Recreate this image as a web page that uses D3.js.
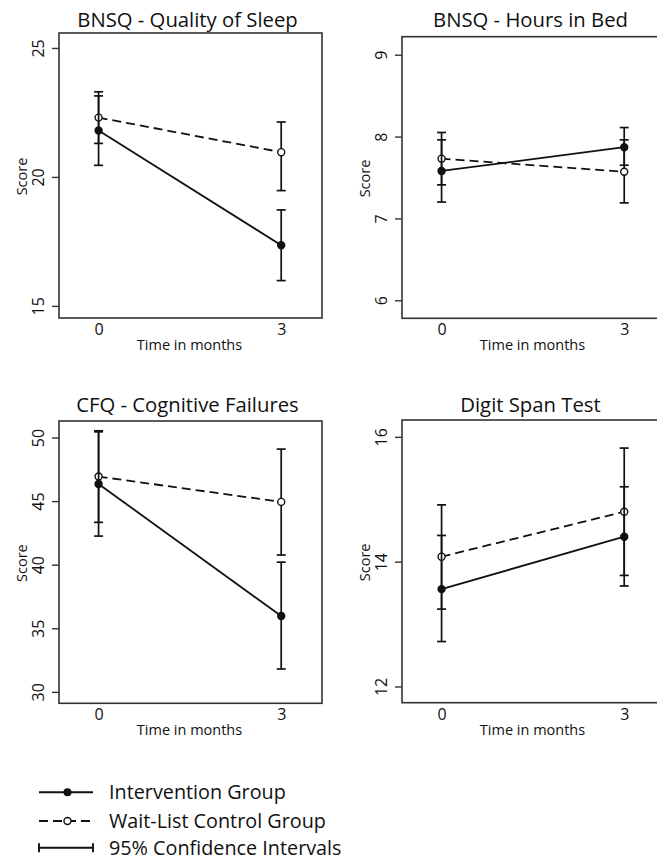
<!DOCTYPE html>
<html>
<head>
<meta charset="utf-8">
<script src="https://cdn.jsdelivr.net/npm/d3@7"></script>
<style>
  body { margin: 0; background: #fff; }
  text { font-family: "Open Sans", "Noto Sans", sans-serif; fill: #111; }
</style>
</head>
<body>
<svg></svg>
<script>
// values
const months = [0, 3];
const titles = ["BNSQ - Quality of Sleep", "BNSQ - Hours in Bed", "CFQ - Cognitive Failures", "Digit Span Test"];
const yTicks = [[15, 20, 25], [6, 7, 8, 9], [30, 35, 40, 45, 50], [12, 14, 16]];
const yDomains = [[14.53, 25.58], [5.78, 9.22], [29.1, 51.3], [11.74, 16.27]];
const xDomain = [-0.65, 3.67];

const interventionMean = [[21.8, 17.35], [7.58, 7.87], [46.35, 35.96], [13.56, 14.4]];
const interventionLow = [[20.45, 15.98], [7.2, 7.65], [42.25, 31.8], [12.72, 13.61]];
const interventionHigh = [[23.14, 18.72], [7.96, 8.11], [50.45, 40.2], [14.42, 15.2]];

const controlMean = [[22.3, 20.96], [7.73, 7.57], [46.93, 44.94], [14.08, 14.8]];
const controlLow = [[21.3, 19.47], [7.41, 7.19], [43.33, 40.76], [13.24, 13.78]];
const controlHigh = [[23.3, 22.13], [8.05, 7.96], [50.53, 49.09], [14.91, 15.82]];

const legendLabels = ["Intervention Group", "Wait-List Control Group", "95% Confidence Intervals"];

const width = 657;
const height = 861;
const ink = "#111";

// plot boxes, title baselines
const boxes = [
    { x0: 59, x1: 322, y0: 33, y1: 318, ty: 27 },
    { x0: 402, x1: 665, y0: 36.7, y1: 318.3, ty: 27 },
    { x0: 59, x1: 322, y0: 421, y1: 703.3, ty: 412 },
    { x0: 402, x1: 665, y0: 420, y1: 702.7, ty: 412 },
];

const svg = d3.select("svg").attr("width", width).attr("height", height);

boxes.forEach(function (b, i) {
    const g = svg.append("g");

    const x = d3.scaleLinear().domain(xDomain).range([b.x0, b.x1]);
    const y = d3.scaleLinear().domain(yDomains[i]).range([b.y1, b.y0]);

    // title
    g.append("text")
        .attr("x", (b.x0 + b.x1) / 2 - 3)
        .attr("y", b.ty)
        .attr("text-anchor", "middle")
        .style("font-size", "20.3px")
        .text(titles[i]);

    // box
    g.append("rect")
        .attr("x", b.x0)
        .attr("y", b.y0)
        .attr("width", b.x1 - b.x0)
        .attr("height", b.y1 - b.y0)
        .attr("fill", "none")
        .attr("stroke", "#333")
        .attr("stroke-width", 1.6);

    // y axis: ticks outside, labels rotated
    const yAxis = g.append("g")
        .attr("transform", `translate(${b.x0}, 0)`)
        .call(d3.axisLeft(y).tickValues(yTicks[i]).tickSize(7).tickFormat(d3.format("d")));
    yAxis.select(".domain").remove();
    yAxis.selectAll(".tick line").attr("stroke", "#333").attr("stroke-width", 1.4);
    yAxis.selectAll(".tick text")
        .attr("x", null).attr("dy", null)
        .attr("transform", "translate(-15, 0) rotate(-90)")
        .attr("text-anchor", "middle")
        .attr("fill", ink)
        .style("font-size", "16px")
        .style("font-family", "'Open Sans', sans-serif");

    // x axis: labels only
    const xAxis = g.append("g")
        .attr("transform", `translate(0, ${b.y1})`)
        .call(d3.axisBottom(x).tickValues(months).tickSize(0).tickPadding(0).tickFormat(d3.format("d")));
    xAxis.select(".domain").remove();
    xAxis.selectAll(".tick text")
        .attr("y", 17).attr("dy", null)
        .attr("fill", ink)
        .style("font-size", "16px")
        .style("font-family", "'Open Sans', sans-serif");

    g.append("text")
        .attr("x", (b.x0 + b.x1) / 2 - 1)
        .attr("y", b.y1 + 32)
        .attr("text-anchor", "middle")
        .style("font-size", "14.5px")
        .text("Time in months");

    g.append("text")
        .attr("transform", `translate(${b.x0 - 32}, ${(b.y0 + b.y1) / 2 + 1}) rotate(-90)`)
        .attr("text-anchor", "middle")
        .style("font-size", "14.5px")
        .text("Score");

    const groups = [
        { mean: controlMean[i], low: controlLow[i], high: controlHigh[i], dash: "9,5", fill: "#fff" },
        { mean: interventionMean[i], low: interventionLow[i], high: interventionHigh[i], dash: null, fill: ink },
    ];

    groups.forEach(function (s) {
        const pts = months.map((m, k) => ({ m: m, v: s.mean[k], lo: s.low[k], hi: s.high[k] }));

        // confidence intervals
        const bars = g.append("g").attr("stroke", ink).attr("stroke-width", 1.7);
        pts.forEach(function (p) {
            bars.append("line").attr("x1", x(p.m)).attr("x2", x(p.m)).attr("y1", y(p.lo)).attr("y2", y(p.hi));
            [p.lo, p.hi].forEach(function (v) {
                bars.append("line").attr("x1", x(p.m) - 4.5).attr("x2", x(p.m) + 4.5).attr("y1", y(v)).attr("y2", y(v));
            });
        });

        const line = d3.line().x(d => x(d.m)).y(d => y(d.v));
        g.append("path")
            .datum(pts)
            .attr("fill", "none")
            .attr("stroke", ink)
            .attr("stroke-width", 1.8)
            .attr("stroke-dasharray", s.dash)
            .attr("d", line);

        g.selectAll(null)
            .data(pts)
            .enter()
            .append("circle")
            .attr("cx", d => x(d.m))
            .attr("cy", d => y(d.v))
            .attr("r", 3.5)
            .attr("fill", s.fill)
            .attr("stroke", ink)
            .attr("stroke-width", 1.4);
    });
});

// legend
const leg = svg.append("g");
const rowY = [792.3, 821, 847.7];
const lx0 = 39, lx1 = 93, lmid = 67.5;

leg.append("line").attr("x1", lx0).attr("x2", lx1).attr("y1", rowY[0]).attr("y2", rowY[0])
    .attr("stroke", ink).attr("stroke-width", 1.9);
leg.append("circle").attr("cx", lmid).attr("cy", rowY[0]).attr("r", 4).attr("fill", ink);

leg.append("line").attr("x1", lx0).attr("x2", lx1).attr("y1", rowY[1]).attr("y2", rowY[1])
    .attr("stroke", ink).attr("stroke-width", 1.9).attr("stroke-dasharray", "9,5");
leg.append("circle").attr("cx", lmid).attr("cy", rowY[1]).attr("r", 3.5)
    .attr("fill", "#fff").attr("stroke", ink).attr("stroke-width", 1.4);

leg.append("line").attr("x1", lx0).attr("x2", lx1).attr("y1", rowY[2]).attr("y2", rowY[2])
    .attr("stroke", ink).attr("stroke-width", 1.9);
[lx0, lx1].forEach(function (xx) {
    leg.append("line").attr("x1", xx).attr("x2", xx).attr("y1", rowY[2] - 4.5).attr("y2", rowY[2] + 4.5)
        .attr("stroke", ink).attr("stroke-width", 1.9);
});

leg.selectAll(null)
    .data(legendLabels)
    .enter()
    .append("text")
    .attr("x", 109)
    .attr("y", (d, k) => rowY[k] + 7)
    .style("font-size", "19.8px")
    .text(d => d);
</script>
</body>
</html>
